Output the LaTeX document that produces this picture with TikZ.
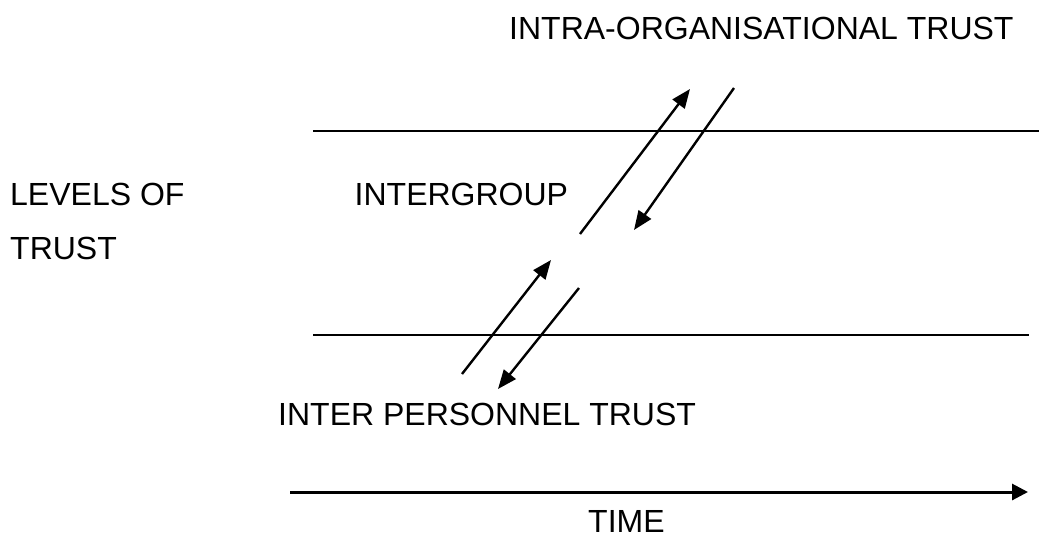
\documentclass[tikz,border=0pt]{standalone}
\usepackage{fontspec}
\setmainfont{Liberation Sans}
\usetikzlibrary{arrows.meta}
\begin{document}
\begin{tikzpicture}[x=1pt,y=-1pt,
  label/.style={inner sep=0pt,anchor=base west,font=\fontsize{32}{38}\selectfont},
  level/.style={line width=2pt},
  flow/.style={line width=2.4pt,-{Triangle[length=19pt,width=15pt]}},
  timeaxis/.style={line width=3pt,-{Triangle[length=16pt,width=16pt]}}]
\useasboundingbox (0,0) rectangle (1039,539);

% boundaries between trust levels
\coordinate (topL) at (313,131);
\coordinate (topR) at (1039,131);
\coordinate (botL) at (313,335);
\coordinate (botR) at (1029,335);
\draw[level] (topL) -- (topR);
\draw[level] (botL) -- (botR);

% labels
\node[label] (intra) at (509,39) {INTRA-ORGANISATIONAL TRUST};
\node[label] (lev1) at (10,205) {LEVELS OF};
\node[label] (lev2) at (10,259) {TRUST};
\node[label] (inter) at (354.5,205) {INTERGROUP};
\node[label] (pers) at (278,425.5) {INTER PERSONNEL TRUST};
\node[label] (time) at (588,532) {TIME};

% movement between levels
\coordinate (a1s) at (580,234);
\coordinate (a1e) at (690,89);
\coordinate (a2s) at (734,88);
\coordinate (a2e) at (634,230);
\coordinate (a3s) at (462,374);
\coordinate (a3e) at (551,260);
\coordinate (a4s) at (579,288);
\coordinate (a4e) at (498,389);
\draw[flow] (a1s) -- (a1e);
\draw[flow] (a2s) -- (a2e);
\draw[flow] (a3s) -- (a3e);
\draw[flow] (a4s) -- (a4e);

% time axis
\coordinate (t0) at (290,492);
\coordinate (t1) at (1028,492);
\draw[timeaxis] (t0) -- (t1);
\end{tikzpicture}
\end{document}
